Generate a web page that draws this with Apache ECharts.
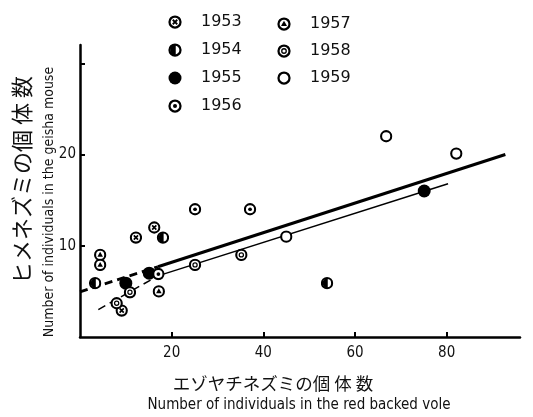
<!DOCTYPE html>
<html><head><meta charset="utf-8">
<script src="https://cdn.jsdelivr.net/npm/echarts@6/dist/echarts.min.js"></script>
<style>html,body{margin:0;padding:0;background:#fff}#c{width:533px;height:417px}</style>
</head><body><div id="c"></div>
<script>
// ---- data ----
const years = ['1953', '1954', '1955', '1956', '1957', '1958', '1959'];
const legendLeftYears = ['1953', '1954', '1955', '1956'];
const legendRightYears = ['1957', '1958', '1959'];
const pts1953 = [[12.2, 10.9], [16.2, 12.0], [9.1, 2.9]];
const pts1954 = [[3.3, 5.9], [18.1, 10.9], [53.9, 5.9]];
const pts1955 = [[10.0, 5.9], [15.1, 7.0], [75.1, 16.0]];
const pts1956 = [[25.1, 14.0], [37.1, 14.0], [17.1, 6.9]];
const pts1957 = [[4.4, 9.0], [4.4, 7.9], [17.2, 5.0]];
const pts1958 = [[25.1, 7.9], [35.2, 9.0], [10.9, 4.9], [8.0, 3.7]];
const pts1959 = [[45.0, 11.0], [66.8, 22.0], [82.1, 20.1]];
const thickDashed = [[0, 4.95], [17, 7.7]];
const thickSolid = [[17, 7.7], [92.8, 20.0]];
const thinDashed = [[4, 3.0], [17, 6.7]];
const thinSolid = [[17, 6.7], [80.3, 16.8]];
const xTickValues = [20, 40, 60, 80];
const yTickValues = [10, 20, 30];
const yLabelValues = [10, 20];
const xTitleJa = 'エゾヤチネズミの個 体 数';
const xTitleEn = 'Number of individuals in the red backed vole';
const yTitleJa = 'ヒメネズミの個 体 数';
const yTitleEn = 'Number of individuals in the geisha mouse';

// ---- symbols ----
function sym(inner) {
  const svg = "<svg xmlns='http://www.w3.org/2000/svg' width='28' height='28' viewBox='0 0 28 28'>" + inner + "</svg>";
  return 'image://data:image/svg+xml;charset=utf-8,' + encodeURIComponent(svg);
}
const ring = "<circle cx='14' cy='14' r='11' fill='white' stroke='black' stroke-width='4.5'/>";
const symbols = {
  '1953': sym(ring + "<path d='M9.5 9.5L18.5 18.5M18.5 9.5L9.5 18.5' stroke='black' stroke-width='3.6'/>"),
  '1954': sym(ring + "<path d='M15.5 3A11 11 0 0 0 15.5 25Z' fill='black'/>"),
  '1955': sym("<circle cx='14' cy='14' r='13' fill='black'/>"),
  '1956': sym(ring + "<circle cx='14' cy='14' r='4' fill='black'/>"),
  '1957': sym(ring + "<path d='M14 7.5L20 18L8 18Z' fill='black'/>"),
  '1958': sym(ring + "<circle cx='14' cy='14' r='4.5' fill='none' stroke='black' stroke-width='2.6'/>"),
  '1959': sym(ring)
};
const pointSets = { '1953': pts1953, '1954': pts1954, '1955': pts1955, '1956': pts1956, '1957': pts1957, '1958': pts1958, '1959': pts1959 };

const scatterSeries = years.map(y => ({
  name: y, type: 'scatter', data: pointSets[y], symbol: symbols[y],
  symbolSize: y === '1955' ? 14 : 13, itemStyle: { color: '#000', opacity: 1 }, z: 5
}));
function lineS(data, w, dashed) {
  return { type: 'line', data: data, showSymbol: false, symbol: 'none', silent: true,
    lineStyle: { color: '#000', width: w, type: dashed ? [8, 5] : 'solid' }, z: 3 };
}

const chart = echarts.init(document.getElementById('c'), null, { renderer: 'canvas' });
const tickFont = { fontFamily: 'DejaVu Sans Condensed', fontSize: 15, color: '#111' };
const legendCommon = {
  orient: 'vertical', itemWidth: 14, itemHeight: 14, padding: 0,
  itemStyle: { opacity: 1 },
  textStyle: { fontFamily: 'DejaVu Sans', fontSize: 16, color: '#111', padding: [0, 0, 0, 14] },
  selectedMode: false
};
chart.setOption({
  animation: false,
  backgroundColor: '#fff',
  grid: { left: 80, right: 13, top: 45, bottom: 80 },
  legend: [
    Object.assign({}, legendCommon, { data: legendLeftYears, left: 168, top: 14, itemGap: 12 }),
    Object.assign({}, legendCommon, { data: legendRightYears, left: 277, top: 16, itemGap: 11 })
  ],
  xAxis: {
    type: 'value', min: 0, max: 96,
    axisLine: { lineStyle: { color: '#000', width: 2.5 } },
    axisTick: { inside: true, length: 5, customValues: xTickValues, lineStyle: { color: '#000', width: 2 } },
    axisLabel: Object.assign({ customValues: xTickValues, margin: 9 }, tickFont),
    splitLine: { show: false }
  },
  yAxis: {
    type: 'value', min: 0, max: 32,
    axisLine: { show: true, lineStyle: { color: '#000', width: 2.5 } },
    axisTick: { show: true, inside: true, length: 5, customValues: yTickValues, lineStyle: { color: '#000', width: 2 } },
    axisLabel: Object.assign({ customValues: yLabelValues, margin: 4 }, tickFont),
    splitLine: { show: false }
  },
  graphic: [
    { type: 'text', x: 273, y: 383, style: { text: xTitleJa, font: '17.5px "Noto Sans CJK JP"', fill: '#111', textAlign: 'center', textVerticalAlign: 'middle' } },
    { type: 'text', x: 299, y: 405, style: { text: xTitleEn, font: '15px "DejaVu Sans Condensed"', fill: '#111', textAlign: 'center', textVerticalAlign: 'middle' } },
    { type: 'text', x: 22, y: 180, rotation: Math.PI / 2, style: { text: yTitleJa, font: '22px "Noto Sans CJK JP"', fill: '#111', textAlign: 'center', textVerticalAlign: 'middle' } },
    { type: 'text', x: 49, y: 202, rotation: Math.PI / 2, style: { text: yTitleEn, font: '14px "DejaVu Sans Condensed"', fill: '#111', textAlign: 'center', textVerticalAlign: 'middle' } }
  ],
  series: scatterSeries.concat([
    lineS(thickDashed, 2.8, true), lineS(thickSolid, 3, false),
    lineS(thinDashed, 1.5, true), lineS(thinSolid, 1.5, false)
  ])
});
</script>
</body></html>
